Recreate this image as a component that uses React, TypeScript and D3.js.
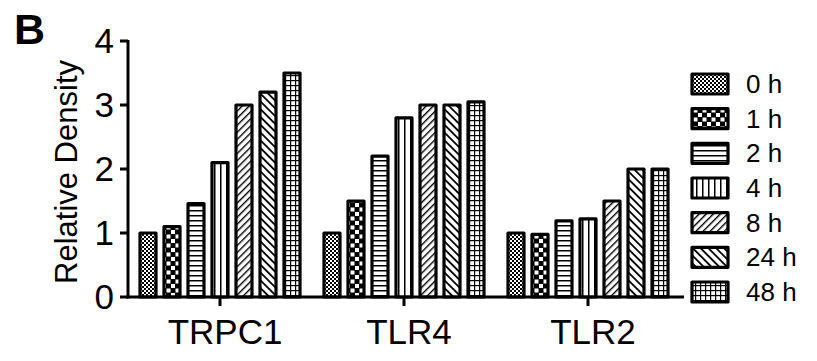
import React from "react";
import * as d3 from "d3";

const categories = ["TRPC1", "TLR4", "TLR2"];
const seriesNames = ["0 h", "1 h", "2 h", "4 h", "8 h", "24 h", "48 h"];
const s0h = [1.0, 1.0, 1.0];
const s1h = [1.1, 1.5, 0.98];
const s2h = [1.46, 2.2, 1.19];
const s4h = [2.1, 2.8, 1.22];
const s8h = [3.0, 3.0, 1.5];
const s24h = [3.2, 3.0, 2.0];
const s48h = [3.5, 3.05, 2.0];
const seriesValues = [s0h, s1h, s2h, s4h, s8h, s24h, s48h];
const yTicks = [0, 1, 2, 3, 4];

const W = 817;
const H = 361;
const FONT = "Arial, 'Liberation Sans', Helvetica, sans-serif";

export default function App() {
  const x0 = d3.scaleBand<string>().domain(categories).range([128, 680]).padding(0);
  const x1 = d3
    .scaleBand<string>()
    .domain(seriesNames)
    .range([-84, 84])
    .paddingInner(1 / 3)
    .paddingOuter(1 / 6);
  const y = d3.scaleLinear().domain([0, 4]).range([297, 41]);
  const legendY = d3.scalePoint<string>().domain(seriesNames).range([84, 292]);

  const patId = (i: number) => `pat${i}`;

  return (
    <svg width={W} height={H} style={{ display: "block", position: "absolute", left: 0, top: 0, background: "#fff" }}>
      <defs>
        <pattern id="pat0" patternUnits="userSpaceOnUse" width={4} height={4}>
          <rect width={4} height={4} fill="#fff" />
          <rect x={0} y={0} width={2} height={2} fill="#000" />
          <rect x={2} y={2} width={2} height={2} fill="#000" />
        </pattern>
        <pattern id="pat1" patternUnits="userSpaceOnUse" width={9} height={9}>
          <rect width={9} height={9} fill="#000" />
          <rect x={0.5} y={0.5} width={4} height={4} fill="#fff" />
          <rect x={5} y={5} width={4} height={4} fill="#fff" />
        </pattern>
        <pattern id="pat2" patternUnits="userSpaceOnUse" width={6} height={5}>
          <rect width={6} height={5} fill="#fff" />
          <rect x={0} y={0} width={6} height={1.5} fill="#000" />
        </pattern>
        <pattern id="pat3" patternUnits="userSpaceOnUse" width={6} height={6}>
          <rect width={6} height={6} fill="#fff" />
          <rect x={0} y={0} width={1.5} height={6} fill="#000" />
        </pattern>
        <pattern id="pat4" patternUnits="userSpaceOnUse" width={5} height={5} patternTransform="rotate(45)">
          <rect width={5} height={5} fill="#fff" />
          <rect x={0} y={0} width={1.4} height={5} fill="#000" />
        </pattern>
        <pattern id="pat5" patternUnits="userSpaceOnUse" width={5.5} height={5.5} patternTransform="rotate(-45)">
          <rect width={5.5} height={5.5} fill="#fff" />
          <rect x={0} y={0} width={1.8} height={5.5} fill="#000" />
        </pattern>
        <pattern id="pat6" patternUnits="userSpaceOnUse" width={5} height={5}>
          <rect width={5} height={5} fill="#fff" />
          <rect x={0} y={0} width={5} height={1.2} fill="#000" />
          <rect x={0} y={0} width={1.2} height={5} fill="#000" />
        </pattern>
      </defs>

      {/* Panel letter */}
      <text x={14} y={44} fontFamily={FONT} fontWeight="bold" fontSize={43} fill="#000">
        B
      </text>

      {/* Bars */}
      {categories.map((c, ci) => (
        <g key={c} transform={`translate(${(x0(c) as number) + x0.bandwidth() / 2},0)`}>
          {seriesNames.map((s, si) => {
            const v = seriesValues[si][ci];
            return (
              <rect
                key={s}
                x={x1(s) as number}
                y={y(v)}
                width={x1.bandwidth()}
                height={y(0) - y(v)}
                fill={`url(#${patId(si)})`}
                stroke="#000"
                strokeWidth={3.2}
                strokeLinejoin="round"
              />
            );
          })}
        </g>
      ))}

      {/* Y axis */}
      <line x1={128} x2={128} y1={y(4) - 1} y2={y(0) + 1.5} stroke="#000" strokeWidth={3} />
      {yTicks.map((t) => (
        <g key={t}>
          <line x1={120} x2={128} y1={y(t)} y2={y(t)} stroke="#000" strokeWidth={3} />
          <text
            x={114}
            y={y(t)}
            dy="0.35em"
            textAnchor="end"
            fontFamily={FONT}
            fontSize={35}
            fill="#000"
          >
            {t}
          </text>
        </g>
      ))}
      <text
        transform={`translate(77,${(y(0) + y(4)) / 2 + 3}) rotate(-90)`}
        textAnchor="middle"
        fontFamily={FONT}
        fontSize={31}
        fill="#000"
      >
        Relative Density
      </text>

      {/* X axis */}
      <line x1={126.5} x2={684} y1={y(0)} y2={y(0)} stroke="#000" strokeWidth={3} />
      {categories.map((c) => {
        const cx = (x0(c) as number) + x0.bandwidth() / 2;
        return (
          <g key={c}>
            <line x1={cx} x2={cx} y1={y(0)} y2={y(0) + 9} stroke="#000" strokeWidth={3} />
            <text x={cx + 5} y={344} textAnchor="middle" fontFamily={FONT} fontSize={35} fill="#000">
              {c}
            </text>
          </g>
        );
      })}

      {/* Legend */}
      {seriesNames.map((s, si) => {
        const cy = legendY(s) as number;
        return (
          <g key={s}>
            <rect
              x={692}
              y={cy - 10}
              width={36}
              height={20}
              fill={`url(#${patId(si)})`}
              stroke="#000"
              strokeWidth={3.2}
              strokeLinejoin="round"
            />
            <text x={746} y={cy + 9} fontFamily={FONT} fontSize={26} fill="#000">
              {s}
            </text>
          </g>
        );
      })}
    </svg>
  );
}
